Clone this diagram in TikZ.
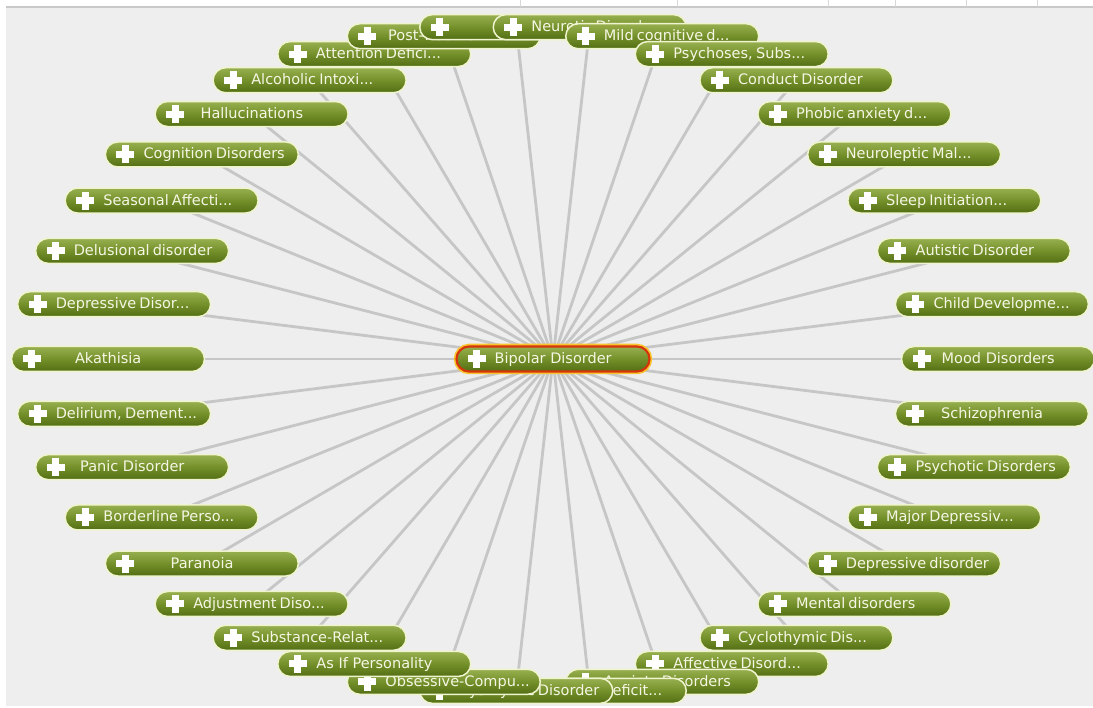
\documentclass[tikz,border=0pt]{standalone}
\usepackage{fontspec}
\setmainfont{DejaVu Sans}
\usetikzlibrary{calc}

\definecolor{canvas}{RGB}{238,238,238}
\definecolor{rulecol}{RGB}{200,200,200}
\definecolor{spokecol}{RGB}{198,198,198}
\definecolor{pilltop}{RGB}{152,176,80}
\definecolor{pillmid}{RGB}{116,144,42}
\definecolor{pillbot}{RGB}{82,110,20}
\definecolor{pillrim}{RGB}{240,244,206}
\definecolor{pillink}{RGB}{246,246,228}
\definecolor{hotrim}{RGB}{214,52,10}
\definecolor{hotglow}{RGB}{248,196,48}

\pgfdeclarelayer{back}
\pgfdeclarelayer{edges}
\pgfsetlayers{back,edges,main}

\newcommand\pillfont{\fontsize{14.5}{16}\selectfont}

\tikzset{
  pill/.style={rectangle, rounded corners=12.5pt, minimum width=193pt,
    minimum height=25pt, inner sep=0pt, outer sep=0pt, draw=pillrim,
    line width=1.5pt, top color=pilltop, bottom color=pillbot,
    middle color=pillmid},
  hotpill/.style={pill, draw=hotrim, line width=2.2pt,
    preaction={draw=hotglow, line width=5.5pt}},
  pilltext/.style={text=pillink, inner sep=0pt, font=\pillfont,
    text height=11pt, text depth=2pt, anchor=west},
  plusmark/.style={fill=white},
  spoke/.style={draw=spokecol, line width=2.8pt},
}

% #1 name, #2 centre x, #3 centre y, #4 label, #5 pill style
% The label is centred on the pill but never starts left of the cross.
\newcommand\pillnode[5]{%
  \pgfmathsetmacro\plx{#2-76.5}%
  \pgfmathsetmacro\ptx{#2-58.5}%
  \node[#5] (#1) at (#2,#3) {};
  \fill[plusmark] ({\plx-9},{#3-3.5}) rectangle ({\plx+9},{#3+3.5});
  \fill[plusmark] ({\plx-3.5},{#3-9}) rectangle ({\plx+3.5},{#3+9});
  \node[pilltext] (#1-t) at (\ptx,#3) {\hbox to 117pt{\hfil #4\hfil}};
}

% pill number #2 of 38 placed on the ring
\newcommand\pillk[3]{%
  \pgfmathsetmacro\pcx{553+445*cos(#2*360/38)}%
  \pgfmathsetmacro\pcy{359-333*sin(#2*360/38)}%
  \pillnode{#1}{\pcx}{\pcy}{#3}{pill}%
}

\hbadness=10000 \hfuzz=200pt

\begin{document}
\begin{tikzpicture}[x=1pt,y=-1pt]
\useasboundingbox (0,0) rectangle (1093,708);

\begin{pgfonlayer}{back}
  \fill[white] (0,0) rectangle (1093,708);
  \fill[canvas] (6,7) rectangle (1093,706);
  \draw[rulecol, line width=1.5pt] (6,7) -- (1093,7);
  \foreach \tx in {520,677,828,895,966,1037}
    \draw[rulecol!70, line width=0.8pt] (\tx,0) -- (\tx,7);
\end{pgfonlayer}

% outer ring, drawn so that lower numbers lie on top
\pillk{n37}{37}{Schizophrenia}
\pillk{n36}{36}{Psychotic Disorders}
\pillk{n35}{35}{Major Depressiv...}
\pillk{n34}{34}{Depressive disorder}
\pillk{n33}{33}{Mental disorders}
\pillk{n32}{32}{Cyclothymic Dis...}
\pillk{n31}{31}{Affective Disord...}
\pillk{n30}{30}{Anxiety Disorders}
\pillk{n29}{29}{Attention Deficit...}
\pillk{n28}{28}{Dysthymic Disorder}
\pillk{n27}{27}{Obsessive-Compu...}
\pillk{n26}{26}{As If Personality}
\pillk{n25}{25}{Substance-Relat...}
\pillk{n24}{24}{Adjustment Diso...}
\pillk{n23}{23}{Paranoia}
\pillk{n22}{22}{Borderline Perso...}
\pillk{n21}{21}{Panic Disorder}
\pillk{n20}{20}{Delirium, Dement...}
\pillk{n19}{19}{Akathisia}
\pillk{n18}{18}{Depressive Disor...}
\pillk{n17}{17}{Delusional disorder}
\pillk{n16}{16}{Seasonal Affecti...}
\pillk{n15}{15}{Cognition Disorders}
\pillk{n14}{14}{Hallucinations}
\pillk{n13}{13}{Alcoholic Intoxi...}
\pillk{n12}{12}{Attention Defici...}
\pillk{n11}{11}{Post-Traumati...}
\pillk{n10}{10}{}
\pillk{n9}{9}{Neurotic Disord...}
\pillk{n8}{8}{Mild cognitive d...}
\pillk{n7}{7}{Psychoses, Subs...}
\pillk{n6}{6}{Conduct Disorder}
\pillk{n5}{5}{Phobic anxiety d...}
\pillk{n4}{4}{Neuroleptic Mal...}
\pillk{n3}{3}{Sleep Initiation...}
\pillk{n2}{2}{Autistic Disorder}
\pillk{n1}{1}{Child Developme...}
\pillk{n0}{0}{Mood Disorders}

% focus node
\pillnode{c}{553}{359}{Bipolar Disorder}{hotpill}

\begin{pgfonlayer}{edges}
  \foreach \k in {0,...,37}
    \draw[spoke] (c.center) -- (n\k.center);
\end{pgfonlayer}
\end{tikzpicture}
\end{document}
